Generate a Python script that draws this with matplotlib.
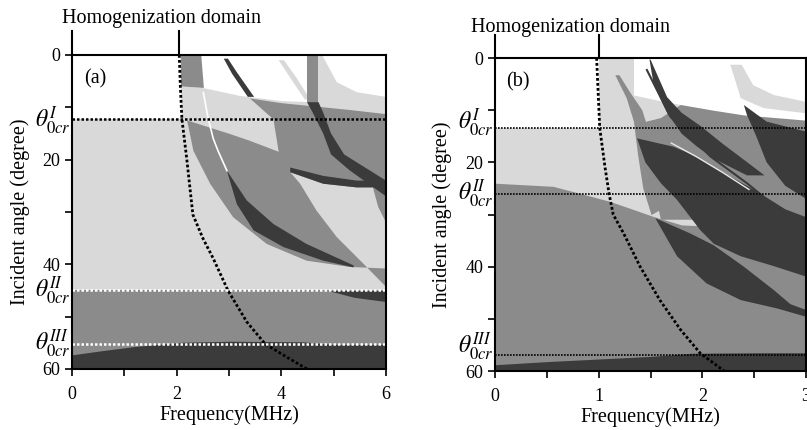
import matplotlib
matplotlib.use("Agg")
import matplotlib.pyplot as plt
import matplotlib.transforms as mtransforms

plt.rcParams['font.family'] = ['Liberation Serif', 'DejaVu Serif']
plt.rcParams['mathtext.fontset'] = 'stix'

LIGHT = '#d9d9d9'
MED = '#8b8b8b'
DARK = '#3b3b3b'

# ---------------- panel (a) data (frequency MHz, angle deg) ----------------
a_theta_cr = [12.3, 45.0, 55.2]
a_label_t = [12.6, 45.0, 55.2]
a_homog_f = [2.05, 2.07, 2.10, 2.19, 2.31, 2.50, 2.70, 2.98, 3.34, 3.69, 4.10, 4.49]
a_homog_t = [0, 6, 12.2, 19.6, 30.5, 35, 38.9, 45, 51, 55.2, 57.7, 60]
a_bottom_f = [0, 0.5, 1.2, 2.1, 3.0, 4.4, 5.0, 6.0]
a_bottom_t = [57.3, 56.6, 55.7, 54.9, 54.7, 54.8, 55.3, 55.3]

a_light_upper = [(2.08, 6.0), (2.5, 6.3), (3.2, 7.8), (4.0, 8.8), (5.0, 9.2), (6.0, 9.5),
                 (6.0, 12.3), (2.1, 12.3)]
a_light_arc = [(4.62, 0), (4.78, 0), (5.06, 5.2), (5.44, 7.1), (6.0, 8.0), (6.0, 9.6), (4.62, 9.6)]
a_light_thin = [(3.95, 1.0), (4.05, 1.0), (4.3, 4.5), (4.55, 8.5), (4.45, 8.5), (4.2, 4.8)]
a_med_top = [(2.08, 0), (2.47, 0), (2.52, 6.3), (2.08, 6.0)]
a_med_top2 = [(4.49, 0), (4.71, 0), (4.71, 9.0), (4.49, 9.0)]
a_med_main = [(3.4, 8.3), (4.0, 9.2), (4.6, 9.8), (5.3, 10.5), (6.0, 11.3), (6.0, 25.3),
              (5.44, 25.3), (4.8, 24.6), (4.17, 22.4), (4.36, 24.6), (4.67, 29.7), (5.06, 34.8),
              (5.57, 39.9), (6.0, 44.3), (6.0, 40.8), (5.31, 40.5), (4.48, 39.3), (3.72, 36.1),
              (3.08, 31.0), (2.64, 24.6), (2.32, 18.3), (2.2, 12.5), (2.64, 13.9), (3.02, 15.1),
              (3.4, 16.4), (3.95, 18.5), (3.85, 12.3)]
a_med_edge = [(5.75, 25.3), (6.0, 25.3), (6.0, 32.0), (5.85, 29.0)]
a_dark_arc = [(2.9, 0.7), (2.98, 0.7), (3.15, 3.3), (3.48, 8.0), (3.36, 8.0), (3.06, 3.6)]
a_dark_band1 = [(2.96, 22.1), (3.34, 27.8), (3.85, 32.3), (4.48, 36.1), (5.38, 40.2),
                (5.38, 40.6), (4.8, 39.3), (4.04, 36.7), (3.47, 33.5), (3.15, 28.5)]
a_dark_band2 = [(4.49, 9.0), (4.71, 9.0), (4.8, 11), (4.95, 15), (5.2, 19), (5.6, 21.5),
                (6.0, 24.0), (6.0, 27.0), (5.76, 25.3), (5.3, 22), (4.95, 19), (4.8, 15),
                (4.6, 11)]
a_dark_band3 = [(4.17, 21.5), (4.8, 23.1), (5.44, 24.0), (6.0, 24.0), (6.0, 25.3),
                (5.44, 25.3), (4.8, 24.6), (4.17, 22.4)]
a_dark_sliver = [(4.9, 45.1), (6.0, 45.1), (6.0, 47.2), (5.4, 46.4)]
a_white_line = [(2.51, 7.2), (2.6, 12), (2.7, 16), (2.79, 18.3), (2.96, 22.1)]

# ---------------- panel (b) data ----------------
b_theta_cr = [13.4, 26.0, 57.0]
b_label_t = [12.5, 26.0, 55.3]
b_homog_f = [0.98, 1.01, 1.06, 1.10, 1.14, 1.24, 1.40, 1.59, 1.79, 1.98, 2.21]
b_homog_t = [0, 13.4, 20.8, 26, 30, 33.6, 40, 46.4, 52.1, 56.6, 60]
b_mid_f = [0, 0.56, 0.885, 1.11, 1.3, 1.53, 1.8, 3.0]
b_mid_t = [24.0, 24.6, 26.3, 27.5, 28.8, 30.4, 32.0, 33.0]
b_bottom_f = [0, 0.5, 1.0, 1.5, 1.9, 2.5, 3.0]
b_bottom_t = [58.8, 58.2, 57.7, 57.2, 56.6, 56.5, 56.5]

b_light_col = [(1.0, 0), (1.34, 0), (1.34, 13.4), (1.0, 13.4)]
b_light_patch = [(1.3, 7.0), (1.6, 8.3), (1.79, 9.0), (1.6, 11.5), (1.4, 12.5), (1.34, 13.4)]
b_light_arc = [(2.27, 1.3), (2.38, 1.3), (2.49, 5.2), (2.69, 7.1), (3.0, 8.4), (3.0, 10.6),
               (2.59, 9.6), (2.37, 7.7)]
b_med_diag = [(1.16, 3.3), (1.27, 7.7), (1.34, 12.2), (1.38, 18.6), (1.43, 25), (1.51, 30.1),
              (1.7, 28), (1.5, 15), (1.42, 10), (1.3, 6.5), (1.2, 3.3)]
b_med_right = [(1.4, 12.5), (1.6, 11.5), (1.79, 9.0), (2.11, 10.1), (2.4, 11.0), (3.0, 12.0),
               (3.0, 31), (1.6, 31)]
b_dark_big = [(1.37, 15.4), (1.72, 17), (1.9, 18.5), (2.11, 21), (2.43, 24.5), (2.6, 26.5),
              (2.8, 29), (3.0, 30.5), (3.0, 41.9), (2.69, 39.9), (2.37, 38), (2.11, 35.6),
              (1.98, 33), (1.756, 27.2), (1.6, 24), (1.45, 20)]
b_dark_lens = [(1.546, 30.7), (1.88, 33.6), (2.11, 35.9), (2.4, 40), (2.69, 44.5), (2.85, 47.2),
               (3.0, 48.3), (3.0, 49.6), (2.72, 48), (2.37, 46.4), (2.04, 43.2), (1.756, 38)]
b_dark_arc = [(1.5, 0.3), (1.56, 3), (1.66, 7.5), (1.8, 10.5), (1.98, 13.0), (2.2, 16.5),
              (2.4, 19.5), (2.6, 22.5), (2.43, 22.5), (2.11, 19.3), (1.95, 17.0), (1.8, 14.5),
              (1.66, 10.5), (1.53, 5), (1.49, 0.3)]
b_dark_right = [(2.4, 9.0), (2.62, 12.2), (3.0, 14.1), (3.0, 27.0), (2.8, 24.5), (2.62, 20.0),
                (2.52, 15.0), (2.43, 10.9)]
b_dark_line = [(1.465, 2.3), (1.69, 11.2), (1.88, 15), (2.08, 18.9), (2.43, 24), (2.59, 26.6)]
b_light_line = [(1.7, 16.3), (1.95, 19.0), (2.2, 22.0), (2.45, 25.2)]

a_shapes = [(a_light_upper, LIGHT), (a_light_arc, LIGHT), (a_light_thin, LIGHT),
            (a_med_top, MED), (a_med_top2, MED), (a_med_main, MED), (a_med_edge, MED),
            (a_dark_arc, DARK), (a_dark_band1, DARK), (a_dark_band2, DARK),
            (a_dark_band3, DARK), (a_dark_sliver, DARK)]
b_shapes = [(b_light_col, LIGHT), (b_light_patch, LIGHT), (b_light_arc, LIGHT),
            (b_med_diag, MED), (b_med_right, MED), (b_dark_big, DARK), (b_dark_lens, DARK),
            (b_dark_arc, DARK), (b_dark_right, DARK)]

fig = plt.figure(figsize=(8.07, 4.30), dpi=100)
ax_a = fig.add_axes([0.0892, 0.1419, 0.3891, 0.7302])
ax_b = fig.add_axes([0.6134, 0.1372, 0.3854, 0.7279])


def draw_panel(ax, fmax, thI, thII, mid_f, mid_t, bot_f, bot_t, shapes, homog_f, homog_t):
    ax.axhspan(0, thI, color='white', lw=0)
    ax.axhspan(thI, 60, color=LIGHT, lw=0)
    if mid_f is not None:
        ax.fill_between(mid_f, mid_t, 60, color=MED, lw=0)
    else:
        ax.axhspan(thII, 60, color=MED, lw=0)
    for pts, col in shapes:
        ax.fill([p[0] for p in pts], [p[1] for p in pts], color=col, lw=0)
    ax.fill_between(bot_f, bot_t, 60, color=DARK, lw=0)
    ax.plot(homog_f, homog_t, color='black', lw=2, ls=(0, (1, 0.8)))
    ax.set_xlim(0, fmax)
    ax.set_ylim(60, 0)


draw_panel(ax_a, 6, a_theta_cr[0], a_theta_cr[1], None, None, a_bottom_f, a_bottom_t,
           a_shapes, a_homog_f, a_homog_t)
ax_a.plot([p[0] for p in a_white_line], [p[1] for p in a_white_line], color='white', lw=1.2)
ax_a.axhline(a_theta_cr[0], color='black', lw=1.8, ls=(0, (1, 0.8)))
ax_a.axhline(a_theta_cr[1], color='white', lw=1.8, ls=(0, (1, 0.8)))
ax_a.axhline(a_theta_cr[2], color='white', lw=1.8, ls=(0, (1, 0.8)))

draw_panel(ax_b, 3, b_theta_cr[0], b_theta_cr[1], b_mid_f, b_mid_t, b_bottom_f, b_bottom_t,
           b_shapes, b_homog_f, b_homog_t)
ax_b.plot([p[0] for p in b_dark_line], [p[1] for p in b_dark_line], color=DARK, lw=1.5)
ax_b.plot([p[0] for p in b_light_line], [p[1] for p in b_light_line], color='#e8e8e8', lw=1.0)
for t in b_theta_cr:
    ax_b.axhline(t, color='black', lw=1.2, ls=(0, (1, 0.8)))

labels = [r'$\theta^{I}_{0cr}$', r'$\theta^{II}_{0cr}$', r'$\theta^{III}_{0cr}$']

for ax, fmax, label_t, homog0, tag, txt_x, txt_y, ylab_x in [
        (ax_a, 6, a_label_t, 2.05, '(a)', 1.72, 1.115, -0.134),
        (ax_b, 3, b_label_t, 1.0, '(b)', 0.73, 1.096, -0.138)]:
    for s in ax.spines.values():
        s.set_linewidth(1.5)
    ax.set_yticks([0, 20, 40, 60])
    ax.set_yticks([10, 30, 50], minor=True)
    if fmax == 6:
        ax.set_xticks([0, 2, 4, 6])
        ax.set_xticks([1, 3, 5], minor=True)
    else:
        ax.set_xticks([0, 1, 2, 3])
        ax.set_xticks([0.5, 1.5, 2.5], minor=True)
    ax.tick_params(which='both', direction='out', length=5, width=1.2, labelsize=13)
    ax.tick_params(axis='x', pad=7)
    ax.set_xlabel('Frequency(MHz)', fontsize=14.5)
    ax.xaxis.set_label_coords(0.5, -0.117)
    ax.set_ylabel('Incident angle (degree)', fontsize=14.5)
    ax.yaxis.set_label_coords(ylab_x, 0.5)
    tr = mtransforms.blended_transform_factory(ax.transData, ax.transAxes)
    for xv in [0, homog0]:
        ax.plot([xv, xv], [1.0, 1.075], color='black', lw=1.5, transform=tr, clip_on=False)
    ax.text(txt_x, txt_y, 'Homogenization domain', transform=tr, ha='center', va='center',
            fontsize=14.5)
    ax.text(0.075, 0.925, tag, transform=ax.transAxes, ha='center', va='center', fontsize=14.5)
    ytr = mtransforms.blended_transform_factory(ax.transAxes, ax.transData)
    for t, lab in zip(label_t, labels):
        ax.text(-0.005, t, lab, transform=ytr, ha='right', va='center', fontsize=17)

fig.savefig('out.png', dpi=100)
